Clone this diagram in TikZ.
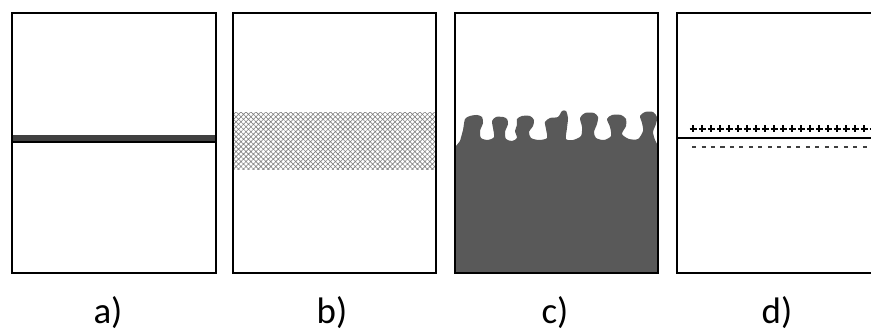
\documentclass[tikz,border=0pt]{standalone}
\usepackage{fontspec}
\setmainfont{Carlito}
\usetikzlibrary{patterns.meta}

\definecolor{filmgray}{HTML}{404040}
\definecolor{bulkgray}{HTML}{595959}
\tikzset{
  panel/.style={draw=black,line width=1.4pt},
  caption/.style={anchor=base,font=\fontsize{21}{25}\selectfont},
}

\begin{document}
\begin{tikzpicture}[x=0.02cm,y=-0.02cm]
\useasboundingbox (0,0) rectangle (871,333);

% a) thin dense layer
\fill[filmgray] (12,135) rectangle (216,141);
\draw[line width=1.2pt] (12,142) -- (216,142);
\draw[panel] (12,13) rectangle (216,273);

% b) diffuse layer
\fill[pattern={Hatch[angle=45,distance=2pt,line width=0.35pt]},pattern color=gray] (234,113) rectangle (435,170);
\draw[panel] (233,13) rectangle (436,273);

% c) rough bulk with fingers
\fill[bulkgray] (456,273) -- (456,146) -- plot[smooth,tension=0.45] coordinates {
  (460,141) (463,130) (465,119) (470,116) (477,115) (482,117) (483,123) (480,131) (481,138)
  (488,140) (494,137) (493,128) (492,121) (496,117) (503,117) (507,119) (508,124) (505,132) (506,139)
  (512,141) (517,138) (515,131) (517,125) (517,119) (522,116) (530,116) (534,120) (533,126) (529,132) (531,138)
  (539,140) (547,138) (546,129) (545,122) (550,118) (558,117) (562,111) (566,111) (568,118) (567,128) (566,139)
  (573,140) (581,136) (582,127) (580,118) (585,113) (594,113) (598,117) (597,124) (594,132) (596,138)
  (604,140) (611,136) (610,127) (607,119) (612,115) (621,115) (626,119) (626,126) (622,134)
  (629,139) (638,139) (643,131) (642,123) (640,116) (645,112) (653,112) (657,117) (656,124) (653,132) (655,140)
} -- (658,146) -- (658,273) -- cycle;
\draw[panel] (455,13) rectangle (658,273);

% d) charged double layer
\draw[panel] (871,13) -- (677,13) -- (677,273) -- (871,273);
\draw[line width=1pt] (677,138) -- (871,138);
\foreach \i in {0,...,20}
  \draw[line width=0.65pt] (693+9*\i-3.5,129) -- (693+9*\i+3.5,129)
                           (693+9*\i,125.5) -- (693+9*\i,132.5);
\draw[line width=0.6pt,black!75,dash pattern=on 2.3pt off 3.1pt] (692,147) -- (871,147);

% captions
\node[caption] (capa) at (108,324) {a)};
\node[caption] (capb) at (332,324) {b)};
\node[caption] (capc) at (555,324) {c)};
\node[caption] (capd) at (777,324) {d)};
\end{tikzpicture}
\end{document}
